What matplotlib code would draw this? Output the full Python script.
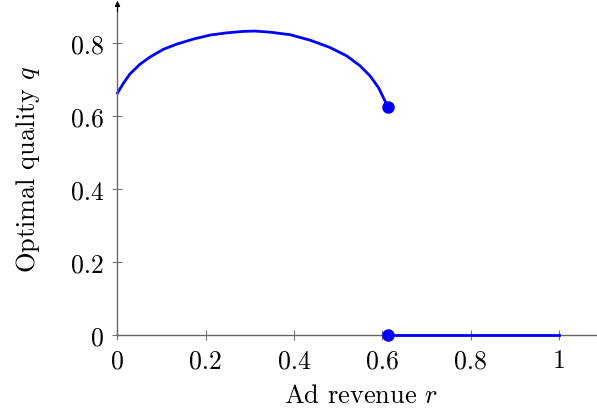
#!/usr/bin/env python3

import matplotlib
matplotlib.use("Agg")
import matplotlib.pyplot as plt

# Interior branch of the optimal quality
r_upper = [0.000, 0.013, 0.028, 0.051, 0.074, 0.104, 0.134, 0.172, 0.210,
           0.247, 0.285, 0.310, 0.345, 0.391, 0.436, 0.481, 0.519, 0.549,
           0.572, 0.591, 0.602, 0.612]
q_upper = [0.664, 0.690, 0.716, 0.743, 0.763, 0.784, 0.798, 0.812, 0.823,
           0.829, 0.833, 0.834, 0.831, 0.824, 0.809, 0.789, 0.766, 0.739,
           0.711, 0.679, 0.652, 0.626]

# Corner branch: quality drops to zero beyond the threshold
r_lower = [0.612, 1.0]
q_lower = [0.0, 0.0]

xticks = [0, 0.2, 0.4, 0.6, 0.8, 1]
xtick_labels = ["0", "0.2", "0.4", "0.6", "0.8", "1"]
yticks = [0, 0.2, 0.4, 0.6, 0.8]
ytick_labels = ["0", "0.2", "0.4", "0.6", "0.8"]

plt.rcParams["font.family"] = "serif"
plt.rcParams["font.serif"] = ["cmr10"]
plt.rcParams["mathtext.fontset"] = "cm"
plt.rcParams["axes.unicode_minus"] = False

fig = plt.figure(figsize=(5.97, 4.10), dpi=100)
ax = fig.add_axes([0.1968, 0.1805, 0.8135, 0.800])

blue = "#0000ff"
ax.plot(r_upper, q_upper, color=blue, lw=2.0, solid_joinstyle="round",
        clip_on=False)
ax.plot(r_lower, q_lower, color=blue, lw=2.0, clip_on=False, zorder=3)
ax.plot([r_upper[-1]], [q_upper[-1]], "o", color=blue, ms=8, clip_on=False, zorder=4)
ax.plot([r_lower[0]], [q_lower[0]], "o", color=blue, ms=8, clip_on=False, zorder=4)

ax.set_xlim(0, 1.1)
ax.set_ylim(0, 0.9)

for side in ("top", "right"):
    ax.spines[side].set_visible(False)
for side in ("left", "bottom"):
    ax.spines[side].set_color("#666666")
    ax.spines[side].set_linewidth(1.0)

# arrow tip on the vertical axis
ax.annotate("", xy=(0, 1.019), xytext=(0, 0.985), xycoords="axes fraction",
            arrowprops=dict(arrowstyle="-|>", color="black", lw=0.8,
                            mutation_scale=8, shrinkA=0, shrinkB=0))

ax.set_xticks(xticks)
ax.set_xticklabels(xtick_labels)
ax.set_yticks(yticks)
ax.set_yticklabels(ytick_labels)
ax.tick_params(direction="inout", length=7.5, width=0.8, color="#777777",
               labelsize=18.5, pad=6)

ax.set_xlabel("Ad revenue $r$", fontsize=19)
ax.set_ylabel("Optimal quality $q$", fontsize=19)
ax.xaxis.set_label_coords(0.501, -0.146)
ax.yaxis.set_label_coords(-0.155, 0.508)

fig.savefig("out.png", dpi=100)
